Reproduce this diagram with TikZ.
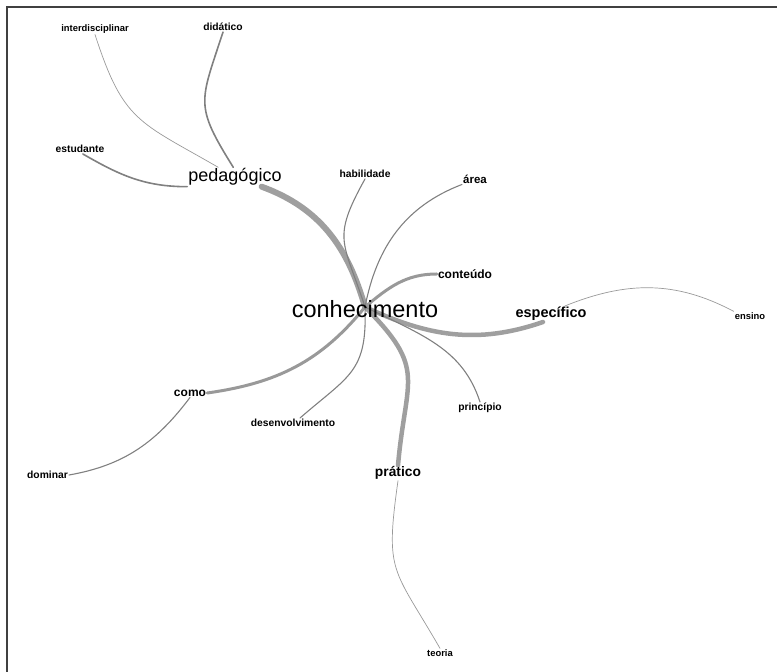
\documentclass[tikz,border=0pt]{standalone}
\usepackage{fontspec}
\setmainfont{Liberation Sans}
\usetikzlibrary{backgrounds}
\begin{document}
\begin{tikzpicture}
    [x=1pt, y=1pt,
      every node/.style={inner sep=1pt, text=black},
      bigword/.style={font=\fontsize{23.5}{24}\selectfont},
      largeword/.style={font=\fontsize{18}{19}\selectfont},
      keyword/.style={font=\bfseries\fontsize{14.5}{15}\selectfont},
      midword/.style={font=\bfseries\fontsize{12}{13}\selectfont},
      smallword/.style={font=\bfseries\fontsize{10.3}{11}\selectfont},
      tinyword/.style={font=\bfseries\fontsize{9.4}{10}\selectfont},
      heavy/.style={draw=gray!75, line width=6pt, line cap=round},
      strong/.style={draw=gray!75, line width=4.5pt, line cap=round},
      medium/.style={draw=gray!80, line width=3pt, line cap=round},
      light/.style={draw=gray, line width=1.6pt, line cap=round},
      thin/.style={draw=gray, line width=1.1pt, line cap=round},
      faint/.style={draw=gray!80, line width=0.7pt, line cap=round},
      frameline/.style={draw=black!75, line width=2pt}]
    \useasboundingbox (0,0) rectangle (777,672);
    \draw[frameline] (7,0) -- (7,664.5) -- (777,664.5);
    \node[bigword] (conhecimento) at (365,363) {conhecimento};
    \node[largeword] (pedagogico) at (235,495) {pedagógico};
    \node[keyword] (especifico) at (551,358) {específico};
    \node[keyword, font=\bfseries\fontsize{13.8}{14}\selectfont] (pratico) at (398,199) {prático};
    \node[midword] (conteudo) at (465,398) {conteúdo};
    \node[midword] (como) at (190,279) {como};
    \node[tinyword] (interdisciplinar) at (95,643) {interdisciplinar};
    \node[smallword] (didatico) at (223,645) {didático};
    \node[smallword] (estudante) at (80,523) {estudante};
    \node[smallword] (habilidade) at (365,498) {habilidade};
    \node[smallword, font=\bfseries\fontsize{11.5}{12}\selectfont] (area) at (475,493) {área};
    \node[tinyword] (ensino) at (750,356) {ensino};
    \node[smallword] (principio) at (480,264) {princípio};
    \node[smallword] (desenvolvimento) at (293,249) {desenvolvimento};
    \node[smallword] (dominar) at (47.5,197) {dominar};
    \node[tinyword] (teoria) at (440,19) {teoria};
    \coordinate (hub) at ([yshift=2pt]conhecimento.center);
    \begin{scope}[on background layer]
      \draw[heavy] (hub) to[out=106, in=-20] (pedagogico.-20);
      \draw[strong] (hub) to[out=-25, in=-161] (especifico.-135);
      \draw[strong] (hub) to[out=-45, in=85, looseness=1.4] (pratico.north);
      \draw[medium] (hub) to[out=40, in=180] (conteudo.west);
      \draw[medium] (hub) to[out=-129, in=8] (como.east);
      \draw[light] (pedagogico.south west) to[out=180, in=-30] (estudante.-60);
      \draw[light] (pedagogico.100) to[out=122, in=-108, looseness=1.4] (didatico.south);
      \draw[faint] (pedagogico.150) to[out=150, in=-72, looseness=1.3] (interdisciplinar.south);
      \draw[thin] (hub) to[out=108, in=-119, looseness=1.4] (habilidade.south);
      \draw[thin] (hub) to[out=79, in=-159] (area.south west);
      \draw[thin] (hub) .. controls (425,336) and (463,322) .. (principio.north);
      \draw[thin] (hub) to[out=-88, in=41, looseness=1.3] ([xshift=7pt]desenvolvimento.north);
      \draw[thin] (como.south) to[out=-127, in=10] (dominar.east);
      \draw[faint] (especifico.30) to[out=22, in=152] (ensino.north west);
      \draw[faint] (pratico.south) to[out=-98, in=120, looseness=1.4] (teoria.north);
    \end{scope}
\end{tikzpicture}
\end{document}
